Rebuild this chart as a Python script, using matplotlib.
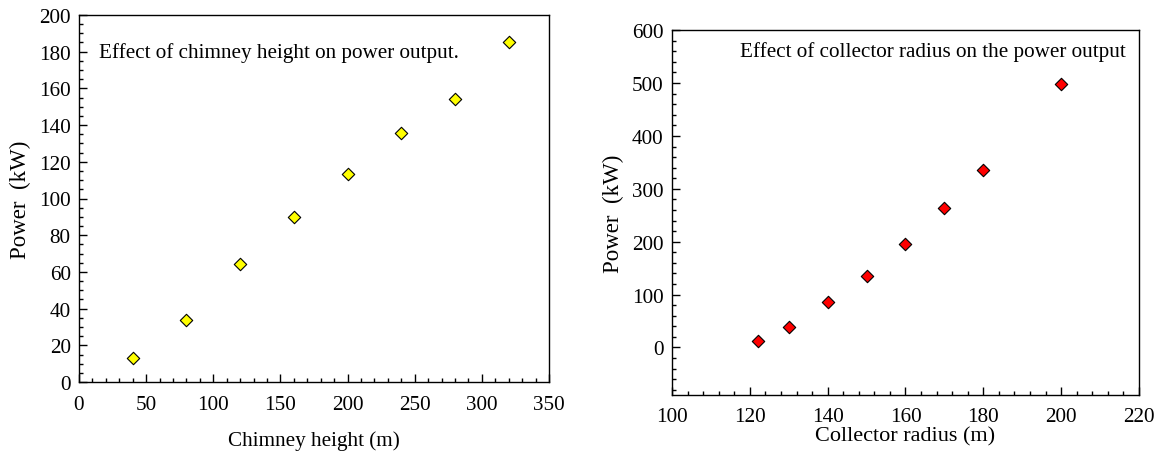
import matplotlib
matplotlib.use("Agg")
import matplotlib.pyplot as plt
import matplotlib.ticker as ticker

# Chimney height vs power
chimney_h = [40, 80, 120, 160, 200, 240, 280, 320]
chimney_p = [13, 34, 64.5, 90, 113.5, 135.5, 154, 185]

# Collector radius vs power
collector_r = [122, 130, 140, 150, 160, 170, 180, 200]
collector_p = [13, 38, 85, 136, 196, 263, 336, 498]

plt.rcParams["font.family"] = ["Liberation Serif", "DejaVu Serif"]

fig = plt.figure(figsize=(11.58, 4.56), dpi=100)
ax1 = fig.add_axes([0.0682, 0.160, 0.4059, 0.805])
ax2 = fig.add_axes([0.5803, 0.1316, 0.4033, 0.800])

fs = 15.2


def style(ax):
    ax.tick_params(which="both", direction="in", top=False, right=False,
                   labelsize=fs)
    ax.tick_params(axis="x", pad=9)
    ax.tick_params(axis="y", pad=6)
    ax.tick_params(which="major", length=6, width=1)
    ax.tick_params(which="minor", length=3, width=1)
    for s in ax.spines.values():
        s.set_linewidth(1)


ax1.scatter(chimney_h, chimney_p, marker="D", s=40, c="#ffff00",
            edgecolors="black", linewidths=0.8, zorder=3)
ax1.set_xlim(0, 350)
ax1.set_ylim(0, 200)
ax1.xaxis.set_major_locator(ticker.MultipleLocator(50))
ax1.xaxis.set_minor_locator(ticker.MultipleLocator(10))
ax1.yaxis.set_major_locator(ticker.MultipleLocator(20))
ax1.yaxis.set_minor_locator(ticker.MultipleLocator(5))
ax1.set_xlabel("Chimney height (m)", fontsize=fs, labelpad=12)
ax1.set_ylabel("Power  (kW)", fontsize=16.5, labelpad=6)
ax1.text(15, 180, "Effect of chimney height on power output.",
         fontsize=fs, va="center", ha="left")
style(ax1)

ax2.scatter(collector_r, collector_p, marker="D", s=40, c="#ff0000",
            edgecolors="black", linewidths=0.8, zorder=3)
ax2.set_xlim(100, 220)
ax2.set_ylim(-90, 600)
ax2.xaxis.set_major_locator(ticker.MultipleLocator(20))
ax2.xaxis.set_minor_locator(ticker.MultipleLocator(4))
ax2.yaxis.set_major_locator(ticker.FixedLocator([0, 100, 200, 300, 400, 500, 600]))
ax2.yaxis.set_minor_locator(ticker.MultipleLocator(20))
ax2.set_xlabel("Collector radius (m)", fontsize=16, labelpad=0)
ax2.set_ylabel("Power  (kW)", fontsize=16.5, labelpad=6)
ax2.text(117.5, 560, "Effect of collector radius on the power output",
         fontsize=fs, va="center", ha="left")
style(ax2)

fig.savefig("out.png", dpi=100)
